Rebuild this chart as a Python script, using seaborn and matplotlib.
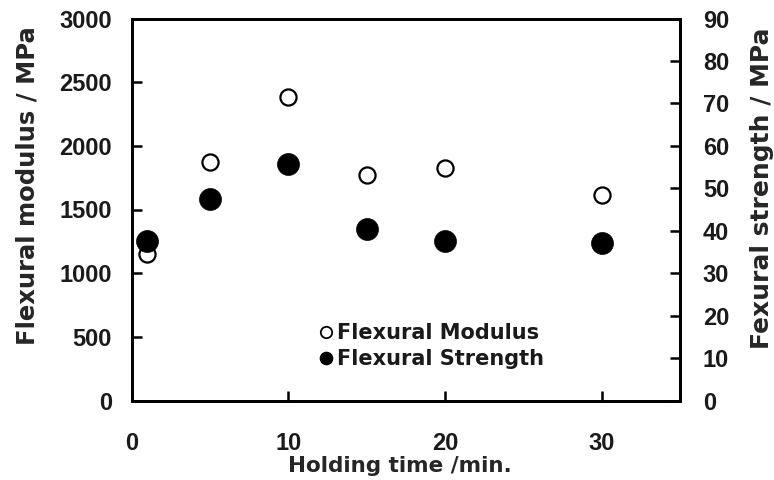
import numpy as np
import pandas as pd
import matplotlib
matplotlib.use("Agg")
import matplotlib.pyplot as plt
import seaborn as sns
from matplotlib.lines import Line2D

# ---- data ----
holding_time = [1, 5, 10, 15, 20, 30]
flexural_modulus = [1150, 1875, 2385, 1770, 1825, 1610]   # MPa, left axis
flexural_strength = [37.6, 47.4, 55.8, 40.4, 37.5, 37.2]  # MPa, right axis
x_ticks = [0, 10, 20, 30]
left_ticks = [0, 500, 1000, 1500, 2000, 2500, 3000]
right_ticks = [0, 10, 20, 30, 40, 50, 60, 70, 80, 90]
legend_labels = ["Flexural Modulus", "Flexural Strength"]

sns.set_style("ticks")
plt.rcParams["font.family"] = ["Liberation Sans", "DejaVu Sans"]
plt.rcParams["font.weight"] = "bold"
plt.rcParams["axes.linewidth"] = 2.0
plt.rcParams["text.color"] = "#1a1a1a"
plt.rcParams["xtick.color"] = "black"
plt.rcParams["ytick.color"] = "black"
plt.rcParams["xtick.labelcolor"] = "#1a1a1a"
plt.rcParams["ytick.labelcolor"] = "#1a1a1a"

df = pd.DataFrame({"time": holding_time,
                   "modulus": flexural_modulus,
                   "strength": flexural_strength})

fig = plt.figure(figsize=(7.74, 4.8), dpi=100)
fig.patch.set_facecolor("white")
ax = fig.add_axes([131.5 / 774, (480 - 400.5) / 480, 548.5 / 774, 382 / 480])
ax2 = ax.twinx()

sns.scatterplot(data=df, x="time", y="modulus", ax=ax, marker="o", s=135,
                color="white", edgecolor="black", linewidth=1.6, legend=False,
                zorder=3)
sns.scatterplot(data=df, x="time", y="strength", ax=ax2, marker="o", s=250,
                color="black", edgecolor="black", linewidth=0.5, legend=False,
                zorder=3)

ax.set_xlim(0, 35)
ax.set_ylim(0, 3000)
ax2.set_ylim(0, 90)
ax.set_xticks(x_ticks)
ax.set_xticklabels([str(v) for v in x_ticks])
ax.set_yticks(left_ticks)
ax.set_yticklabels([str(v) for v in left_ticks])
ax2.set_yticks(right_ticks)
ax2.set_yticklabels([str(v) for v in right_ticks])

tick_font = 17
ax.tick_params(axis="x", direction="in", length=7, width=1.8, labelsize=tick_font, pad=23, top=False)
ax.tick_params(axis="y", direction="in", length=7, width=1.8, labelsize=tick_font, pad=14, right=False)
ax2.tick_params(axis="y", direction="in", length=7, width=1.8, labelsize=tick_font, pad=16.5)

for a in (ax, ax2):
    for sp in a.spines.values():
        sp.set_visible(True)
        sp.set_linewidth(2.0)
        sp.set_color("black")

ax.set_xlabel("Holding time /min.", fontdict=dict(family="DejaVu Sans", weight="bold", size=15.5), va="center")
ax.xaxis.set_label_coords(0.4895, -0.1715)
ax.set_ylabel("Flexural modulus / MPa", fontdict=dict(family="DejaVu Sans", weight="bold", size=17.5), va="center")
ax.yaxis.set_label_coords(-0.1887, 0.5615)
ax2.set_ylabel("Fexural strength / MPa", fontdict=dict(family="DejaVu Sans", weight="bold", size=18), va="center", rotation=90)
ax2.yaxis.set_label_coords(1.1495, 0.556)

handles = [
    Line2D([], [], linestyle="none", marker="o", markersize=8.2, markerfacecolor="white",
           markeredgecolor="black", markeredgewidth=1.3),
    Line2D([], [], linestyle="none", marker="o", markersize=8.8, markerfacecolor="black",
           markeredgecolor="black"),
]
leg = ax2.legend(handles, legend_labels, loc="center", bbox_to_anchor=(0.548, 0.1427),
                 frameon=False, handlelength=0.6, handletextpad=0.2, labelspacing=0.3,
                 borderpad=0.1, prop=dict(family="DejaVu Sans", weight="bold", size=15))
for t in leg.get_texts():
    t.set_color("#1a1a1a")

fig.savefig("out.png", dpi=100, facecolor="white")
